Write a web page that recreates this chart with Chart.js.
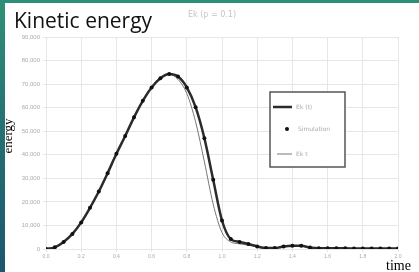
<!DOCTYPE html>
<html>
<head>
<meta charset="utf-8">
<script src="https://cdn.jsdelivr.net/npm/chart.js@4"></script>
<style>
  html, body { margin: 0; padding: 0; background: #fff; }
  #wrap { width: 419px; height: 272px; position: relative; }
</style>
</head>
<body>
<div id="wrap"><canvas id="energyChart" width="419" height="272"></canvas></div>
<script>
// temps (axe x)
const times = [0, 0.05, 0.1, 0.15, 0.2, 0.25, 0.3, 0.35, 0.4, 0.45, 0.5, 0.55, 0.6, 0.65, 0.7, 0.75, 0.8, 0.85, 0.9, 0.95,
  1.0, 1.05, 1.1, 1.15, 1.2, 1.25, 1.3, 1.35, 1.4, 1.45, 1.5, 1.55, 1.6, 1.65, 1.7, 1.75, 1.8, 1.85, 1.9, 1.95, 2.0]

// energie cinetique - courbe epaisse + points
const ekValues = [0, 700, 3000, 6400, 11300, 17500, 24400, 32200, 40400, 48000, 55900, 62900, 68600, 72500, 74300, 73200,
  68600, 60200, 47000, 29400, 12100, 4200, 3000, 2100, 1100, 400, 400, 1100, 1400, 1400, 600, 300, 300, 300, 300, 200,
  200, 200, 200, 200, 200]
const simValues = [0, 700, 3000, 6400, 11300, 17500, 24400, 32200, 40400, 48000, 55900, 62900, 68600, 72500, 74300, 73200,
  68600, 60200, 47000, 29400, 12100, 4200, 3000, 2100, 1100, 400, 400, 1100, 1400, 1400, 600, 300, 300, 300, 300, 200,
  200, 200, 200, 200, 200]
// courbe fine (decalee)
const thinValues = [0, 700, 3000, 6400, 11300, 17500, 24400, 32200, 40400, 48000, 55900, 62900, 68600, 72800, 74100, 72000,
  66000, 54000, 37000, 19000, 7000, 3000, 2200, 1600, 1000, 400, 400, 1100, 1400, 1400, 600, 300, 300, 300, 300, 200,
  200, 200, 200, 200, 200]

const seriesLabels = ["Ek (t)", "Simulation", "Ek t"]
const xTicks = [0, 0.2, 0.4, 0.6, 0.8, 1.0, 1.2, 1.4, 1.6, 1.8, 2.0]

const toPoints = vals => times.map((t, i) => ({ x: t, y: vals[i] }))

// fond + titres + legende
const decor = {
  id: 'decor',
  beforeDraw(chart) {
    const ctx = chart.ctx
    ctx.save()
    const g = ctx.createLinearGradient(0, 0, 0, 272)
    g.addColorStop(0, '#2f9176')
    g.addColorStop(0.5, '#246f72')
    g.addColorStop(1, '#1d5670')
    ctx.fillStyle = g
    ctx.fillRect(0, 0, 419, 272)
    ctx.fillStyle = '#2e8f78'
    ctx.fillRect(0, 0, 419, 3)
    ctx.fillStyle = '#ffffff'
    ctx.fillRect(5, 3, 414, 269)
    ctx.restore()
  },
  afterDraw(chart) {
    const ctx = chart.ctx
    ctx.save()
    ctx.fillStyle = '#111'
    ctx.font = '21px "Open Sans", sans-serif'
    ctx.textBaseline = 'alphabetic'
    ctx.fillText('Kinetic energy', 14, 28)

    ctx.fillStyle = '#c4c4c4'
    ctx.font = '8px "DejaVu Sans", sans-serif'
    ctx.fillText('Ek (p = 0.1)', 188, 17)

    ctx.fillStyle = '#000'
    ctx.font = '14px "Liberation Serif", serif'
    ctx.fillText('time', 386, 270)

    ctx.save()
    ctx.translate(12, 136)
    ctx.rotate(-Math.PI / 2)
    ctx.font = '13px "Liberation Serif", serif'
    ctx.textAlign = 'center'
    ctx.fillText('energy', 0, 0)
    ctx.restore()

    // legende
    ctx.fillStyle = '#fff'
    ctx.fillRect(270, 92, 75, 75)
    ctx.strokeStyle = '#555'
    ctx.lineWidth = 1.5
    ctx.strokeRect(270, 92, 75, 75)

    ctx.strokeStyle = '#2b2b2b'
    ctx.lineWidth = 2.5
    ctx.beginPath(); ctx.moveTo(273, 107); ctx.lineTo(292, 107); ctx.stroke()
    ctx.fillStyle = '#111'
    ctx.beginPath(); ctx.arc(287, 129, 2, 0, Math.PI * 2); ctx.fill()
    ctx.strokeStyle = '#777'
    ctx.lineWidth = 1
    ctx.beginPath(); ctx.moveTo(277, 154); ctx.lineTo(292, 154); ctx.stroke()

    ctx.fillStyle = '#aaa'
    ctx.font = '6px "DejaVu Sans", sans-serif'
    ctx.textBaseline = 'middle'
    ctx.fillText(seriesLabels[0], 296, 107)
    ctx.fillText(seriesLabels[1], 298, 129)
    ctx.fillText(seriesLabels[2], 296, 154)
    ctx.restore()
  }
}

new Chart(document.getElementById('energyChart'), {
  type: 'line',
  data: {
    datasets: [
      {
        label: seriesLabels[0],
        data: toPoints(ekValues),
        borderColor: '#2b2b2b',
        borderWidth: 2.5,
        pointRadius: 0,
        cubicInterpolationMode: 'monotone',
        order: 2
      },
      {
        label: seriesLabels[1],
        data: toPoints(simValues),
        showLine: false,
        pointRadius: 2,
        pointBackgroundColor: '#111',
        pointBorderWidth: 0,
        order: 1
      },
      {
        label: seriesLabels[2],
        data: toPoints(thinValues),
        borderColor: '#777',
        borderWidth: 1,
        pointRadius: 0,
        cubicInterpolationMode: 'monotone',
        order: 3
      }
    ]
  },
  options: {
    responsive: false,
    animation: false,
    layout: { padding: { top: 37, right: 21, left: 0, bottom: 0 } },
    plugins: { legend: { display: false }, tooltip: { enabled: false } },
    scales: {
      x: {
        type: 'linear',
        min: 0,
        max: 2,
        afterBuildTicks: scale => { scale.ticks = xTicks.map(v => ({ value: v })) },
        afterFit: scale => { scale.height = 23 },
        grid: { color: '#e6e6e6', tickLength: 3 },
        border: { color: '#e6e6e6' },
        ticks: {
          padding: 2,
          color: '#aaa',
          font: { size: 5 },
          maxRotation: 0,
          callback: v => Number(v).toFixed(1)
        }
      },
      y: {
        min: 0,
        max: 90000,
        afterFit: scale => { scale.width = 46 },
        grid: { color: '#e6e6e6', tickLength: 3 },
        border: { color: '#e6e6e6' },
        ticks: {
          stepSize: 10000,
          padding: 3,
          color: '#aaa',
          font: { size: 6 },
          callback: v => v.toLocaleString('en-US')
        }
      }
    }
  },
  plugins: [decor]
})
</script>
</body>
</html>
